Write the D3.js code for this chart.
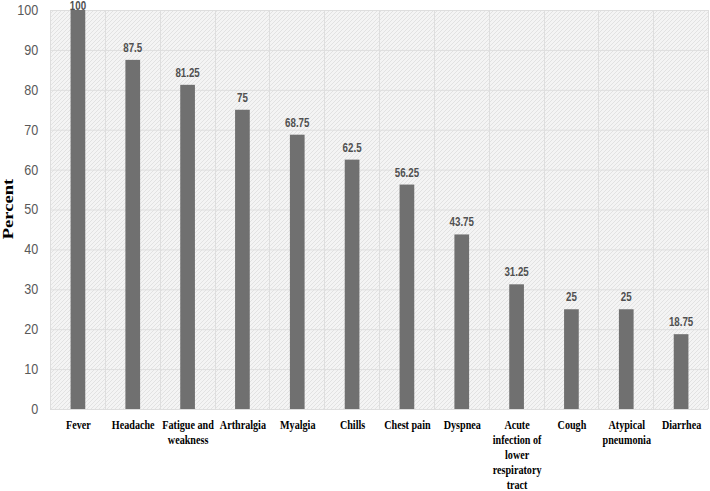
<!DOCTYPE html>
<html><head><meta charset="utf-8">
<script src="https://cdn.jsdelivr.net/npm/d3@7"></script>
<style>body{margin:0;background:#fff}</style>
</head><body>
<svg id="c" width="710" height="491"></svg>
<script>
const categories = ["Fever","Headache","Fatigue and weakness","Arthralgia","Myalgia","Chills","Chest pain","Dyspnea","Acute infection of lower respiratory tract","Cough","Atypical pneumonia","Diarrhea"];
const labelLines = [["Fever"],["Headache"],["Fatigue and","weakness"],["Arthralgia"],["Myalgia"],["Chills"],["Chest pain"],["Dyspnea"],["Acute","infection of","lower","respiratory","tract"],["Cough"],["Atypical","pneumonia"],["Diarrhea"]];
const values = [100,87.5,81.25,75,68.75,62.5,56.25,43.75,31.25,25,25,18.75];
const yTicks = [0,10,20,30,40,50,60,70,80,90,100];

const svg = d3.select("#c");
const L = 50, R = 708, T = 10, B = 409;
const x = d3.scaleBand().domain(categories).range([L, R]).paddingInner(0).paddingOuter(0);
const y = d3.scaleLinear().domain([0,100]).range([B, T]);

const defs = svg.append("defs");
const pat = defs.append("pattern").attr("id","hatch").attr("patternUnits","userSpaceOnUse")
  .attr("width",4).attr("height",4);
pat.append("rect").attr("width",4).attr("height",4).attr("fill","#f4f4f4");
pat.append("path").attr("d","M-1,1 l2,-2 M0,4 l4,-4 M3,5 l2,-2").attr("stroke","#e2e2e2").attr("stroke-width",1);

svg.append("rect").attr("x",L).attr("y",T).attr("width",R-L).attr("height",B-T).attr("fill","url(#hatch)");

// horizontal grid
svg.append("g").selectAll("line").data(yTicks).join("line")
  .attr("x1",L).attr("x2",R).attr("y1",d=>y(d)+0.5).attr("y2",d=>y(d)+0.5)
  .attr("stroke","#dedede").attr("stroke-width",1);
// vertical grid at band boundaries
const bounds = categories.map(c=>x(c)).concat([R]);
svg.append("g").selectAll("line").data(bounds).join("line")
  .attr("x1",d=>Math.round(d)+0.5).attr("x2",d=>Math.round(d)+0.5).attr("y1",T).attr("y2",B)
  .attr("stroke","#dedede").attr("stroke-width",1);

// y axis labels
const yAxis = d3.axisLeft(y).tickValues(yTicks).tickSize(0).tickPadding(13);
const ga = svg.append("g").attr("transform",`translate(${L},0)`).call(yAxis);
ga.select(".domain").remove();
ga.selectAll("text").attr("font-family","'Liberation Sans', Arial, sans-serif").attr("font-size",14)
  .attr("transform","scale(0.9,1)")
  .attr("fill","#595959");

// bars
const bw = 14.7;
svg.append("g").selectAll("rect").data(values).join("rect")
  .attr("x",(d,i)=>x(categories[i])+x.bandwidth()/2-bw/2+0.5)
  .attr("width",bw)
  .attr("y",d=>y(d))
  .attr("height",d=>B-y(d))
  .attr("fill","#707070");

// value labels
svg.append("g").selectAll("text").data(values).join("text")
  .attr("transform",(d,i)=>`translate(${x(categories[i])+x.bandwidth()/2+0.5},${Math.max(y(d)-8,10)}) scale(0.78,1)`)
  .attr("text-anchor","middle")
  .attr("font-family","'Liberation Sans', Arial, sans-serif").attr("font-size",12.5)
  .attr("font-weight","bold")
  .attr("fill","#505050")
  .text(d=>d);

// x labels
const xl = svg.append("g");
labelLines.forEach((lines,i)=>{
  const cx = x(categories[i])+x.bandwidth()/2+1;
  const t = xl.append("text")
    .attr("transform",`translate(${cx},429) scale(0.78,1)`)
    .attr("text-anchor","middle")
    .attr("font-family","'Liberation Serif','Times New Roman',serif").attr("font-weight","bold")
    .attr("font-size",13).attr("fill","#000");
  lines.forEach((ln,j)=>{
    t.append("tspan").attr("x",0).attr("y",j*14.9).text(ln);
  });
});

// y title
svg.append("text").attr("transform","translate(13,209) rotate(-90) scale(1.33,1)")
  .attr("text-anchor","middle")
  .attr("font-family","'Liberation Serif','Times New Roman',serif").attr("font-weight","bold")
  .attr("font-size",14).attr("fill","#000").text("Percent");
</script>
</body></html>
